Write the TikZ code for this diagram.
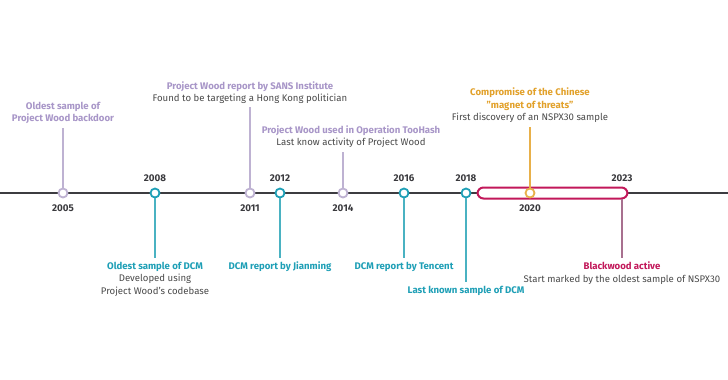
\documentclass[tikz,border=0pt]{standalone}
\usepackage{fontspec}
\setmainfont{Fira Sans}
\begin{document}
\begin{tikzpicture}[x=1pt,y=-1pt,
  dot/.style={circle,draw,fill=white,line width=1.8pt,minimum size=9pt,inner sep=0pt},
  stem/.style={line width=1.2pt},
  yr/.style={font=\fontsize{9.8}{11}\selectfont\bfseries,text=yeartxt,inner sep=0pt},
  lbl/.style={font=\fontsize{9.6}{12.5}\selectfont,align=center,inner sep=0pt,text=bodytxt},
]
\definecolor{lavtxt}{HTML}{A896C8}
\definecolor{lavline}{HTML}{BEB2D2}
\definecolor{tealtxt}{HTML}{1E9FB6}
\definecolor{tealline}{HTML}{4AB2C2}
\definecolor{orangetxt}{HTML}{E2A12A}
\definecolor{orangeline}{HTML}{E8B04A}
\definecolor{crimson}{HTML}{C2185A}
\definecolor{mauve}{HTML}{A8708F}
\definecolor{axis}{HTML}{3C3C40}
\definecolor{yeartxt}{HTML}{3A3A3E}
\definecolor{bodytxt}{HTML}{4A4A4A}
\useasboundingbox[fill=white] (0,0) rectangle (728,380);

% axis
\coordinate (axL) at (0,193);
\coordinate (axR) at (728,193);
\draw[axis,line width=2.4pt] (axL) -- (axR);

% Blackwood bar
\node[draw=crimson,line width=2pt,rounded corners=6pt,fill=white,minimum width=150pt,minimum height=11pt,inner sep=0pt] (bar) at (552.5,193) {};

% stem end coordinates
\coordinate (s05) at (63,128);
\coordinate (s08) at (155,258);
\coordinate (s11) at (250,107);
\coordinate (s12) at (280,258);
\coordinate (s14) at (343,152);
\coordinate (s16) at (404,258);
\coordinate (s18) at (466,282);
\coordinate (s20) at (530,127);
\coordinate (s23a) at (622,199);
\coordinate (s23) at (622,258);

% dots
\node[dot,draw=lavline] (d05) at (63,193) {};
\node[dot,draw=tealtxt] (d08) at (155,193) {};
\node[dot,draw=lavline] (d11) at (250,193) {};
\node[dot,draw=tealtxt] (d12) at (280,193) {};
\node[dot,draw=lavline] (d14) at (343,193) {};
\node[dot,draw=tealtxt] (d16) at (404,193) {};
\node[dot,draw=tealtxt] (d18) at (466,193) {};
\node[dot,draw=orangeline] (d20) at (530,193) {};

% stems
\draw[stem,lavline] (d05) -- (s05);
\draw[stem,tealline] (d08) -- (s08);
\draw[stem,lavline] (d11) -- (s11);
\draw[stem,tealline] (d12) -- (s12);
\draw[stem,lavline] (d14) -- (s14);
\draw[stem,tealline] (d16) -- (s16);
\draw[stem,tealline] (d18) -- (s18);
\draw[stem,orangeline] (d20) -- (s20);
\draw[stem,mauve] (s23a) -- (s23);

% years
\node[yr] (y05) at (63,208) {2005};
\node[yr] (y08) at (155,178) {2008};
\node[yr] (y11) at (250,208) {2011};
\node[yr] (y12) at (280,178) {2012};
\node[yr] (y14) at (343,208) {2014};
\node[yr] (y16) at (404,178) {2016};
\node[yr] (y18) at (466,178) {2018};
\node[yr] (y20) at (530,208) {2020};
\node[yr] (y23) at (622,178) {2023};

% labels above
\node[lbl,anchor=south] (l05) at (63,124) {\textcolor{lavtxt}{\bfseries Oldest sample of}\\\textcolor{lavtxt}{\bfseries Project Wood backdoor}};
\node[lbl,anchor=south] (l11) at (250,104) {\textcolor{lavtxt}{\bfseries Project Wood report by SANS Institute}\\Found to be targeting a Hong Kong politician};
\node[lbl,anchor=south] (l14) at (351,148) {\textcolor{lavtxt}{\bfseries Project Wood used in Operation TooHash}\\Last know activity of Project Wood};
\node[lbl,anchor=south] (l20) at (530,123) {\textcolor{orangetxt}{\bfseries Compromise of the Chinese}\\\textcolor{orangetxt}{\bfseries \char"22 magnet of threats\char"22}\\First discovery of an NSPX30 sample};

% labels below
\node[lbl,anchor=north] (l08) at (155,262) {\textcolor{tealtxt}{\bfseries Oldest sample of DCM}\\Developed using\\Project Wood's codebase};
\node[lbl,anchor=north] (l12) at (280,262) {\textcolor{tealtxt}{\bfseries DCM report by Jianming}};
\node[lbl,anchor=north] (l16) at (404,262) {\textcolor{tealtxt}{\bfseries DCM report by Tencent}};
\node[lbl,anchor=north] (l18) at (466,286) {\textcolor{tealtxt}{\bfseries Last known sample of DCM}};
\node[lbl,anchor=north] (l23) at (622,262) {\textcolor{crimson}{\bfseries Blackwood active}\\Start marked by the oldest sample of NSPX30};
\end{tikzpicture}
\end{document}
